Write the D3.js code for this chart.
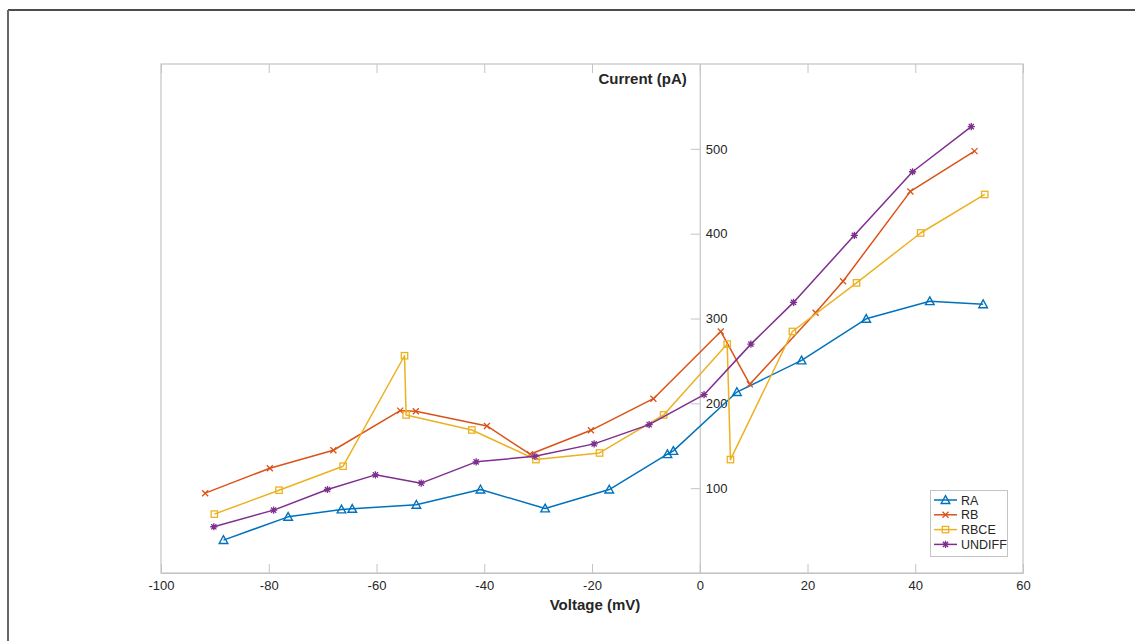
<!DOCTYPE html>
<html>
<head>
<meta charset="utf-8">
<script src="https://cdn.jsdelivr.net/npm/d3@7"></script>
<style>
  html, body { margin: 0; padding: 0; background: #fff; }
  svg { display: block; }
  text { font-family: "Liberation Sans", Arial, Helvetica, sans-serif; }
</style>
</head>
<body>
<svg id="chart" width="1135" height="641"></svg>
<script>
// Current–voltage recordings for four cell groups
const seriesNames = ["RA", "RB", "RBCE", "UNDIFF"];

const raVoltage = [-88.4, -76.4, -66.5, -64.5, -52.6, -40.7, -28.7, -16.8, -6.0, -4.9, 6.9, 18.9, 30.9, 42.7, 52.6];
const raCurrent = [38.8, 66.2, 74.9, 75.6, 80.4, 98.4, 76.1, 98.4, 140, 143.9, 213.3, 250.6, 299.6, 320.4, 316.8];

const rbVoltage = [-91.8, -79.8, -68.0, -55.6, -52.7, -39.5, -31.5, -20.2, -8.6, 3.9, 9.3, 21.5, 26.6, 39.1, 51.0];
const rbCurrent = [94.1, 123.5, 144.7, 191.4, 190.6, 173.3, 140, 168.2, 205.5, 284.7, 222.4, 306.7, 343.9, 449.8, 497.3];

const rbceVoltage = [-90.1, -78.1, -66.2, -54.8, -54.5, -42.3, -30.4, -18.6, -6.7, 5.1, 5.7, 17.2, 29.1, 41.0, 52.9];
const rbceCurrent = [69.4, 97.6, 125.9, 256.1, 186.3, 168.6, 133.7, 141.5, 186.3, 269.8, 133.7, 284.7, 342, 400.8, 446.2];

const undiffVoltage = [-90.2, -79.1, -69.1, -60.2, -51.7, -41.5, -30.6, -19.6, -9.4, 0.8, 9.5, 17.4, 28.7, 39.5, 50.4];
const undiffCurrent = [54.5, 74.1, 98.4, 115.7, 105.9, 131, 137.6, 152.2, 174.9, 210.2, 269.8, 319, 398, 473, 526.2];

const xTicks = [-100, -80, -60, -40, -20, 0, 20, 40, 60];
const yTicks = [100, 200, 300, 400, 500];

const colors = ["#0072BD", "#D95319", "#EDB120", "#7E2F8E"];
const markers = ["triangle", "cross", "square", "asterisk"];

const series = [
  { name: seriesNames[0], v: raVoltage, i: raCurrent },
  { name: seriesNames[1], v: rbVoltage, i: rbCurrent },
  { name: seriesNames[2], v: rbceVoltage, i: rbceCurrent },
  { name: seriesNames[3], v: undiffVoltage, i: undiffCurrent }
].map((s, k) => ({ ...s, color: colors[k], marker: markers[k],
  points: s.v.map((v, j) => ({ v, i: s.i[j] })) }));

const svg = d3.select("#chart");

// outer figure frame (top and left edges visible)
svg.append("line").attr("x1", 8).attr("y1", 10).attr("x2", 1135).attr("y2", 10)
  .attr("stroke", "#111").attr("stroke-width", 1.5);
svg.append("line").attr("x1", 8).attr("y1", 10).attr("x2", 8).attr("y2", 641)
  .attr("stroke", "#666").attr("stroke-width", 2);

const plotLeft = 161, plotRight = 1023, plotTop = 64, plotBottom = 573;
const x = d3.scaleLinear().domain([-100, 60]).range([plotLeft, plotRight]);
const y = d3.scaleLinear().domain([0, 600]).range([plotBottom, plotTop]);

const axisGray = "#c4c4c4";
const labelColor = "#262626";

// plot box
svg.append("rect").attr("x", plotLeft).attr("y", plotTop)
  .attr("width", plotRight - plotLeft).attr("height", plotBottom - plotTop)
  .attr("fill", "none").attr("stroke", axisGray).attr("stroke-width", 1.2);

// bottom x axis: ticks point inward
const xAxisBottom = svg.append("g").attr("transform", `translate(0,${plotBottom})`)
  .call(d3.axisBottom(x).tickValues(xTicks).tickSizeInner(-9).tickSizeOuter(0).tickPadding(8)
    .tickFormat(d3.format("d")));
xAxisBottom.select(".domain").attr("stroke", axisGray).attr("stroke-width", 1.2);
xAxisBottom.selectAll(".tick line").attr("stroke", axisGray);
xAxisBottom.selectAll(".tick text").attr("fill", labelColor).attr("font-size", 13)
  .text(d => d < 0 ? "-" + Math.abs(d) : d);

// mirrored ticks along top edge
const xAxisTop = svg.append("g").attr("transform", `translate(0,${plotTop})`)
  .call(d3.axisTop(x).tickValues(xTicks).tickSizeInner(-9).tickSizeOuter(0).tickFormat(""));
xAxisTop.select(".domain").remove();
xAxisTop.selectAll(".tick line").attr("stroke", axisGray);

// y axis through the origin, labels on the right of the line
const yAxis = svg.append("g").attr("transform", `translate(${x(0)},0)`)
  .call(d3.axisRight(y).tickValues(yTicks).tickSizeInner(-9).tickSizeOuter(0).tickPadding(6));
yAxis.select(".domain").attr("stroke", axisGray).attr("stroke-width", 1.2);
yAxis.selectAll(".tick line").attr("stroke", axisGray);
yAxis.selectAll(".tick text").attr("fill", labelColor).attr("font-size", 13);

// axis titles
svg.append("text").attr("x", x(0) - 13).attr("y", 84).attr("text-anchor", "end")
  .attr("font-size", 15).attr("font-weight", "bold").attr("fill", labelColor)
  .text("Current (pA)");
svg.append("text").attr("x", (plotLeft + plotRight) / 2 + 3).attr("y", 610).attr("text-anchor", "middle")
  .attr("font-size", 15).attr("font-weight", "bold").attr("fill", labelColor)
  .text("Voltage (mV)");

// marker drawing helpers
function drawMarker(g, type, cx, cy, color) {
  if (type === "triangle") {
    const r = 4.3;
    g.append("path")
      .attr("d", `M${cx},${cy - r} L${cx + r},${cy + r * 0.8} L${cx - r},${cy + r * 0.8} Z`)
      .attr("fill", "none").attr("stroke", color).attr("stroke-width", 1.4);
  } else if (type === "square") {
    const r = 3.2;
    g.append("rect").attr("x", cx - r).attr("y", cy - r).attr("width", 2 * r).attr("height", 2 * r)
      .attr("fill", "none").attr("stroke", color).attr("stroke-width", 1.3);
  } else if (type === "cross") {
    const r = 3;
    g.append("path")
      .attr("d", `M${cx - r},${cy - r} L${cx + r},${cy + r} M${cx - r},${cy + r} L${cx + r},${cy - r}`)
      .attr("stroke", color).attr("stroke-width", 1.3);
  } else if (type === "asterisk") {
    const r = 3.6, d = r * 0.72;
    g.append("path")
      .attr("d", `M${cx - r},${cy} L${cx + r},${cy} M${cx},${cy - r} L${cx},${cy + r}` +
        ` M${cx - d},${cy - d} L${cx + d},${cy + d} M${cx - d},${cy + d} L${cx + d},${cy - d}`)
      .attr("stroke", color).attr("stroke-width", 1.3);
  }
}

const line = d3.line().x(d => x(d.v)).y(d => y(d.i));

series.forEach(s => {
  const g = svg.append("g");
  g.append("path").datum(s.points).attr("d", line)
    .attr("fill", "none").attr("stroke", s.color).attr("stroke-width", 1.5)
    .attr("stroke-linejoin", "round");
  s.points.forEach(p => drawMarker(g, s.marker, x(p.v), y(p.i), s.color));
});

// legend
const lg = svg.append("g");
lg.append("rect").attr("x", 930.5).attr("y", 490.5).attr("width", 77).attr("height", 66)
  .attr("fill", "#fff").attr("stroke", axisGray).attr("stroke-width", 1);
series.forEach((s, k) => {
  const cy = 500 + k * 14.8;
  lg.append("line").attr("x1", 934).attr("x2", 957).attr("y1", cy).attr("y2", cy)
    .attr("stroke", s.color).attr("stroke-width", 1.5);
  drawMarker(lg, s.marker, 945.5, cy, s.color);
  lg.append("text").attr("x", 961).attr("y", cy + 4.5).attr("font-size", 12.5)
    .attr("fill", labelColor).text(s.name);
});
</script>
</body>
</html>
